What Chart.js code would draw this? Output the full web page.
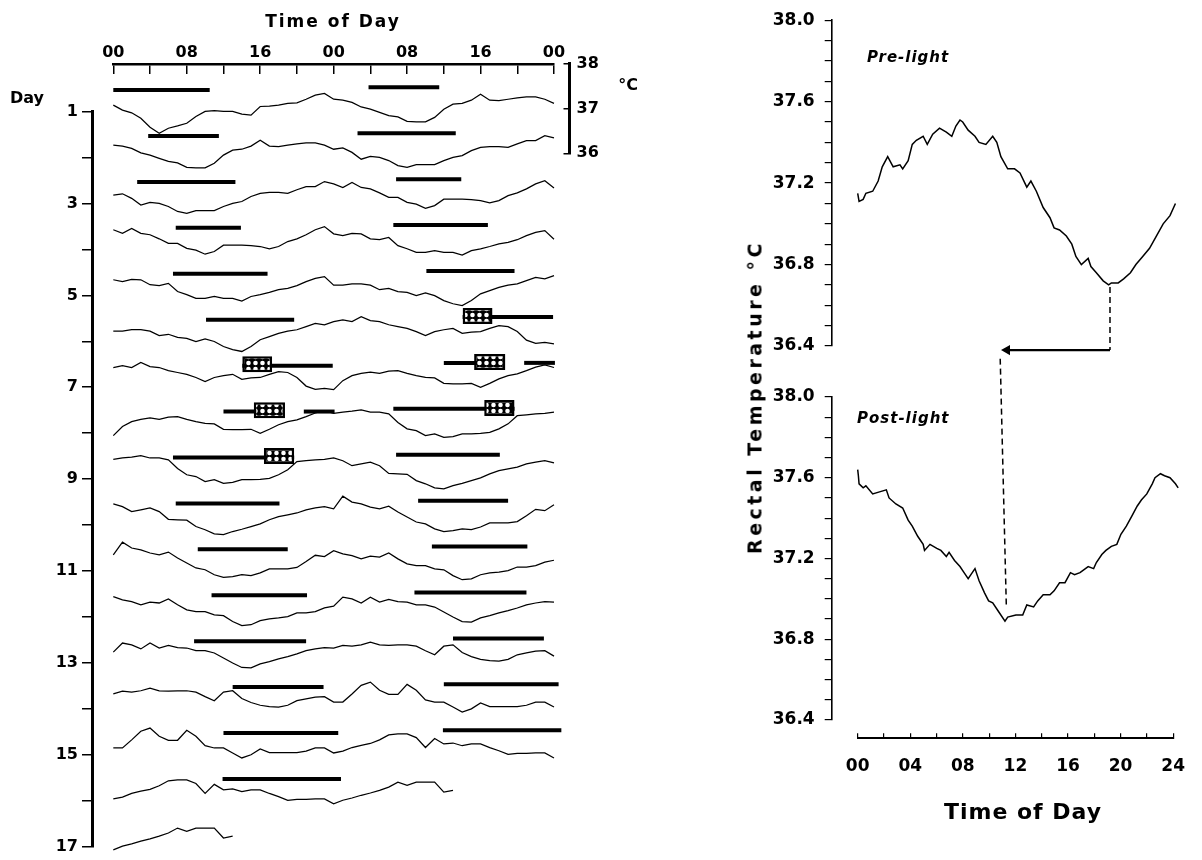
<!DOCTYPE html>
<html><head><meta charset="utf-8">
<script src="https://cdn.jsdelivr.net/npm/chart.js@4.4.1/dist/chart.umd.min.js"></script>
<style>
html,body{margin:0;padding:0;background:#fff;}
#wrap{position:relative;width:1202px;height:860px;overflow:hidden;background:#fff;}
canvas{position:absolute;left:0;top:0;}
.t{position:absolute;font-family:'DejaVu Sans',sans-serif;font-weight:bold;color:#000;white-space:nowrap;line-height:1;transform:translate(-50%,-50%);}
.it{position:absolute;font-family:'DejaVu Sans',sans-serif;font-weight:bold;font-style:italic;color:#000;white-space:nowrap;line-height:1;transform:translate(0,-50%);font-size:15px;letter-spacing:1px;}
</style></head><body>
<div id="wrap">
<canvas id="cMain" width="1202" height="860"></canvas>
<canvas id="cTime" width="1202" height="860"></canvas>
<canvas id="cBr" width="1202" height="860"></canvas>
<canvas id="cPre" width="1202" height="860"></canvas>
<canvas id="cPost" width="1202" height="860"></canvas>
<canvas id="cAx" width="1202" height="860"></canvas>
<div class="t" style="left:333px;top:21px;font-size:17px;letter-spacing:2px;">Time of Day</div>
<div class="t" style="left:27px;top:98px;font-size:16px;">Day</div>
<div class="t" style="left:628px;top:85px;font-size:16px;">°C</div>
<div class="t" style="left:755px;top:397px;font-size:19px;letter-spacing:3.5px;transform:translate(-50%,-50%) rotate(-90deg);">Rectal Temperature °C</div>
<div class="it" style="left:867px;top:57px;">Pre-light</div>
<div class="it" style="left:857px;top:418px;">Post-light</div>
<div class="t" style="left:1023px;top:812px;font-size:22px;letter-spacing:1px;">Time of Day</div>
</div>
<script>
// ================= DATA =================
// Hourly rectal temperature (°C), hours 00..23 of each study day (double-plotted on the left)
const day1  = [37.07,36.96,36.90,36.78,36.58,36.45,36.56,36.61,36.67,36.82,36.93,36.95,36.93,36.93,36.87,36.85,37.04,37.05,37.07,37.11,37.12,37.20,37.29,37.33];
const day2  = [37.20,37.18,37.13,37.03,36.98,36.91,36.84,36.81,36.71,36.70,36.70,36.80,36.98,37.09,37.11,37.18,37.31,37.18,37.17,37.20,37.23,37.25,37.25,37.20];
const day3  = [37.11,37.14,37.04,36.89,36.95,36.93,36.86,36.75,36.71,36.77,36.77,36.77,36.86,36.93,36.97,37.08,37.15,37.17,37.17,37.15,37.23,37.30,37.30,37.41];
const day4  = [37.36,37.28,37.39,37.28,37.25,37.16,37.06,37.06,36.95,36.91,36.82,36.88,37.02,37.02,37.02,37.01,36.99,36.94,36.99,37.10,37.16,37.25,37.36,37.43];
const day5  = [37.27,37.23,37.28,37.27,37.16,37.14,37.19,37.01,36.94,36.86,36.86,36.90,36.86,36.86,36.80,36.90,36.94,36.99,37.05,37.08,37.14,37.23,37.30,37.34];
const day6  = [37.15,37.15,37.18,37.18,37.15,37.05,37.08,37.01,36.99,36.92,36.98,36.92,36.81,36.74,36.70,36.81,36.96,37.03,37.10,37.15,37.18,37.25,37.32,37.29];
const day7  = [37.36,37.40,37.36,37.47,37.38,37.36,37.29,37.25,37.21,37.14,37.05,37.14,37.18,37.21,37.10,37.13,37.14,37.21,37.27,37.25,37.14,36.95,36.88,36.90];
const day8  = [36.87,37.07,37.18,37.23,37.26,37.23,37.28,37.29,37.23,37.18,37.14,37.13,37.01,37.00,37.00,37.01,36.92,37.01,37.11,37.18,37.22,37.29,37.37,37.42];
const day9  = [37.36,37.39,37.41,37.44,37.39,37.39,37.35,37.16,37.02,36.98,36.87,36.91,36.83,36.85,36.91,36.91,36.92,36.94,37.02,37.13,37.31,37.33,37.35,37.36];
const day10 = [37.39,37.33,37.22,37.26,37.30,37.22,37.05,37.04,37.03,36.89,36.82,36.73,36.71,36.78,36.83,36.89,36.95,37.04,37.11,37.15,37.19,37.26,37.30,37.33];
const day11 = [37.28,37.56,37.43,37.39,37.32,37.28,37.34,37.21,37.10,36.99,36.95,36.84,36.78,36.80,36.84,36.82,36.88,36.97,36.97,36.97,37.00,37.13,37.27,37.24];
const day12 = [37.37,37.30,37.26,37.19,37.25,37.23,37.32,37.19,37.08,37.04,37.04,36.97,36.95,36.82,36.73,36.75,36.84,36.88,36.90,36.93,37.01,37.01,37.04,37.12];
const day13 = [37.16,37.36,37.32,37.23,37.36,37.25,37.31,37.26,37.25,37.19,37.19,37.14,37.03,36.92,36.82,36.81,36.90,36.95,37.01,37.06,37.12,37.19,37.23,37.26];
const day14 = [37.25,37.31,37.29,37.32,37.38,37.32,37.31,37.32,37.32,37.29,37.19,37.10,37.29,37.32,37.15,37.06,37.00,36.97,36.96,37.00,37.10,37.14,37.18,37.19];
const day15 = [37.07,37.07,37.25,37.44,37.51,37.33,37.24,37.24,37.46,37.33,37.12,37.07,37.07,36.96,36.85,36.92,37.05,36.97,36.97,36.97,36.97,37.00,37.07,37.07];
const day16 = [36.96,37.00,37.08,37.13,37.17,37.25,37.36,37.38,37.38,37.30,37.08,37.28,37.16,37.18,37.12,37.16,37.16,37.08,37.01,36.93,36.95,36.95,36.96,36.96];
const day17 = [36.85,36.93,36.98,37.04,37.09,37.15,37.22,37.33,37.26,37.33,37.33,37.33,37.11,37.15];
const dayTemps = [day1,day2,day3,day4,day5,day6,day7,day8,day9,day10,day11,day12,day13,day14,day15,day16,day17];

const labelledDays = [1,3,5,7,9,11,13,15,17];
const hourLabels = ['00','08','16'];

// Sleep episodes (day, start hour, end hour)
const sleepDay   = [1,   2,   3,   4,   5,   6,    7,     8,    8,     9,   10,  11,  12,   13,  14,   15,   16];
const sleepStart = [0,   3.8, 2.6, 6.8, 6.5, 10.1, 14.05, 12.0, 20.75, 6.5, 6.8, 9.2, 10.7, 8.8, 13.0, 12.0, 11.9];
const sleepEnd   = [10.5,11.5,13.3,13.9,16.8,19.7, 23.9,  18.6, 24.1,  19.7,18.1,19.0,21.1, 21.0,22.9, 24.5, 24.8];

// Bright-light exposures (day, start hour, end hour)
const lightDay   = [7, 8, 9];
const lightStart = [14.05, 15.3, 16.4];
const lightEnd   = [17.3, 18.7, 19.7];

// Right panels: 24-h rectal temperature curves
const preHours = [0,0.1,0.4,0.6,1.1,1.5,1.8,2.2,2.6,3.1,3.3,3.7,4.0,4.3,4.8,5.1,5.5,6.0,6.5,6.9,7.2,7.5,7.7,8.1,8.6,8.9,9.4,9.9,10.2,10.5,11.0,11.5,11.9,12.4,12.7,13.1,13.6,14.1,14.4,14.8,15.3,15.7,16.0,16.4,16.9,17.1,17.5,18.0,18.4,18.6,19.1,19.5,20.0,20.4,20.9,21.4,21.9,22.4,22.9,23.3];
const preTemps = [37.15,37.11,37.12,37.15,37.16,37.21,37.28,37.33,37.28,37.29,37.27,37.31,37.39,37.41,37.43,37.39,37.44,37.47,37.45,37.43,37.48,37.51,37.50,37.46,37.43,37.40,37.39,37.43,37.40,37.33,37.27,37.27,37.25,37.18,37.21,37.16,37.08,37.03,36.98,36.97,36.94,36.90,36.84,36.80,36.83,36.79,36.76,36.72,36.70,36.71,36.71,36.73,36.76,36.80,36.84,36.88,36.94,37.00,37.04,37.10];
const postHours = [0,0.05,0.1,0.4,0.6,1.1,1.6,2.1,2.3,2.8,3.3,3.7,4.0,4.4,4.8,4.9,5.3,5.8,6.1,6.5,6.7,7.1,7.5,7.8,8.1,8.4,8.6,8.9,9.3,9.6,9.9,10.3,10.8,11.0,11.6,12.1,12.4,12.9,13.2,13.6,14.1,14.4,14.8,15.2,15.6,15.9,16.3,16.9,17.3,17.5,17.9,18.2,18.6,19.0,19.3,19.7,20.1,20.5,20.8,21.2,21.6,21.8,22.2,22.5,22.9,23.3,23.5];
const postTemps = [37.64,37.61,37.57,37.55,37.56,37.52,37.53,37.54,37.50,37.47,37.45,37.39,37.36,37.31,37.27,37.24,37.27,37.25,37.24,37.21,37.23,37.19,37.16,37.13,37.10,37.13,37.15,37.09,37.03,36.99,36.98,36.94,36.89,36.91,36.92,36.92,36.97,36.96,36.99,37.02,37.02,37.04,37.08,37.08,37.13,37.12,37.13,37.16,37.15,37.18,37.22,37.24,37.26,37.27,37.32,37.36,37.41,37.46,37.49,37.52,37.57,37.60,37.62,37.61,37.60,37.57,37.55];

// Phase-shift marker: pre-light nadir -> post-light nadir
const preNadir = [18.5, 36.69];          // hour, °C
const shiftArrowHours = [18.5, 10.95];   // arrow from, to (hour)
const shiftArrowTemp = 36.38;            // level just below the pre-light axis
const postMarkHours = [10.45, 10.9];     // dashed marker, top and bottom
const postMarkTemps = [38.19, 36.96];

// ================= STYLE / LAYOUT =================
Chart.defaults.font.family = "'DejaVu Sans', sans-serif";
Chart.defaults.color = '#000';
const BOLD16 = {family:"'DejaVu Sans', sans-serif", size:16, weight:'bold'};
const BOLD17 = {family:"'DejaVu Sans', sans-serif", size:17, weight:'bold'};
const base = {responsive:false, animation:false, devicePixelRatio:1, events:[],
  plugins:{legend:{display:false}, tooltip:{enabled:false}}};

// left panel geometry
const L_X0 = 113.3, L_X48 = 554, L_AXIS = 92, L_TOP = 111.7, L_BOT = 846.7;
const L_PXH = (L_X48 - L_X0) / 48;
const L_XMIN = -(L_X0 - L_AXIS) / L_PXH;
const DAY_PER_DEG = 45.3 / 45.94;
const TRACE_OFF = -0.074;
const BAR_OFF_1 = -0.47, BAR_OFF_2 = -0.53, BOX_OFF_1 = -0.50, BOX_OFF_2 = -0.55;
function rowY(row, t) { return row + TRACE_OFF - (t - 37) * DAY_PER_DEG; }

const datasets = [];
for (let r = 1; r <= dayTemps.length; r++) {
  const pts = [];
  const a = dayTemps[r - 1], b = dayTemps[r], c = dayTemps[r + 1];
  a.forEach((t, h) => pts.push({x: h, y: rowY(r, t)}));
  if (b) b.forEach((t, h) => pts.push({x: h + 24, y: rowY(r, t)}));
  if (b && b.length === 24 && c) pts.push({x: 48, y: rowY(r, c[0])});
  datasets.push({type:'line', indexAxis:'x', data:pts, borderColor:'#000', borderWidth:1.25,
    pointRadius:0, tension:0, clip:false, order:3});
}
function sleepLine(x1, x2, y) {
  return {type:'line', indexAxis:'x', data:[{x:x1, y:y}, {x:x2, y:y}], borderColor:'#000',
    borderWidth:4, borderCapStyle:'butt', pointRadius:0, clip:false, order:2};
}
sleepDay.forEach((d, i) => {
  datasets.push(sleepLine(sleepStart[i], sleepEnd[i], d + BAR_OFF_1));
  if (d > 1) datasets.push(sleepLine(sleepStart[i] + 24, sleepEnd[i] + 24, d - 1 + BAR_OFF_2));
});
// stipple pattern for light boxes
const pc = document.createElement('canvas'); pc.width = 7; pc.height = 6;
const pg = pc.getContext('2d');
pg.fillStyle = '#000'; pg.fillRect(0, 0, 7, 6);
pg.fillStyle = '#fff'; pg.beginPath(); pg.arc(3.5, 3, 2.3, 0, Math.PI * 2); pg.fill();
const stipple = pg.createPattern(pc, 'repeat');
const boxData = [];
lightDay.forEach((d, i) => {
  boxData.push({x:[lightStart[i], lightEnd[i]], y: d + BOX_OFF_1});
  if (d > 1) boxData.push({x:[lightStart[i] + 24, lightEnd[i] + 24], y: d - 1 + BOX_OFF_2});
});
datasets.push({type:'bar', indexAxis:'y', data:boxData, barThickness:16, backgroundColor:stipple,
  borderColor:'#000', borderWidth:2.5, borderSkipped:false, inflateAmount:0, clip:false, order:1});

new Chart(document.getElementById('cMain'), {
  type:'line', data:{datasets},
  options:Object.assign({}, base, {
    layout:{padding:{left:0, top:L_TOP, right:1202 - L_X48, bottom:860 - L_BOT}},
    scales:{
      x:{type:'linear', min:L_XMIN, max:48, display:false},
      y:{type:'linear', min:1, max:17, reverse:true, position:'left', offset:false,
        afterFit(s){ s.width = L_AXIS; },
        grid:{offset:false, drawOnChartArea:false, drawTicks:true, tickLength:10, color:'#000', lineWidth:1.5},
        border:{display:true, color:'#000', width:3},
        ticks:{stepSize:1, autoSkip:false, padding:4, color:'#000', font:BOLD16,
          callback:(v) => labelledDays.includes(v) ? String(v) : ''}}
    }
  })
});

// top time axis of the left panel
const T_LINE = 64;
new Chart(document.getElementById('cTime'), {
  type:'line', data:{datasets:[]},
  options:Object.assign({}, base, {
    layout:{padding:{left:L_X0, right:1202 - L_X48, top:0, bottom:860 - T_LINE - 11}},
    scales:{
      y:{type:'linear', min:0, max:1, display:false},
      xTop:{axis:'x', type:'linear', position:'top', min:0, max:48,
        afterFit(s){ s.height = T_LINE - 1; },
        grid:{display:false, drawTicks:false}, border:{display:false},
        ticks:{stepSize:4, autoSkip:false, maxRotation:0, padding:1, color:'#000', font:BOLD16,
          callback:(v) => v % 8 === 0 ? hourLabels[(v % 24) / 8] : ''}},
      xBot:{axis:'x', type:'linear', position:'bottom', min:0, max:48,
        afterFit(s){ s.height = 11; },
        grid:{drawOnChartArea:false, drawTicks:true, tickLength:10, color:'#000', lineWidth:1.5},
        border:{display:true, color:'#000', width:2.5},
        ticks:{stepSize:4, autoSkip:false, display:false}}
    }
  })
});

// temperature scale bracket (36–38 °C)
const BR_X = 569.5, BR_TOP = 63.7, BR_BOT = 153.3;
new Chart(document.getElementById('cBr'), {
  type:'line', data:{datasets:[]},
  options:Object.assign({}, base, {
    layout:{padding:{left:BR_X - 6, right:1202 - BR_X - 1 - 40, top:BR_TOP, bottom:860 - BR_BOT}},
    scales:{
      x:{type:'linear', min:0, max:1, display:false},
      yL:{axis:'y', type:'linear', position:'left', min:36, max:38,
        afterFit(s){ s.width = 6; },
        grid:{drawOnChartArea:false, drawTicks:true, tickLength:6, color:'#000', lineWidth:1.5},
        border:{display:true, color:'#000', width:3},
        ticks:{stepSize:1, display:false}},
      yR:{axis:'y', type:'linear', position:'right', min:36, max:38,
        afterFit(s){ s.width = 40; },
        grid:{display:false, drawTicks:false}, border:{display:false},
        ticks:{stepSize:1, padding:6, color:'#000', font:BOLD16, callback:(v) => String(v)}}
    }
  })
});

// right panels
const R_AXIS = 831.7, R_X0 = 857.7, R_X24 = 1185;
const R_PXH = (R_X24 - R_X0) / 24;
const R_XMIN = -(R_X0 - R_AXIS) / R_PXH;
function tempAxis() {
  return {type:'linear', min:36.4, max:38.0, position:'left',
    afterFit(s){ s.width = 91.7; },
    grid:{drawOnChartArea:false, drawTicks:true, tickLength:7, color:'#000', lineWidth:1.2},
    border:{display:true, color:'#000', width:1.6},
    ticks:{stepSize:0.1, autoSkip:false, padding:10, color:'#000', font:BOLD17,
      callback:(v) => (Math.round(v * 10) % 4 === 0) ? v.toFixed(1) : ''}};
}
function curve(hs, ts) {
  return {type:'line', data:hs.map((h, i) => ({x:h, y:ts[i]})), borderColor:'#000', borderWidth:1.5,
    pointRadius:0, tension:0, clip:false};
}
new Chart(document.getElementById('cPre'), {
  type:'line',
  data:{datasets:[
    curve(preHours, preTemps),
    {type:'line', data:[{x:preNadir[0], y:preNadir[1]}, {x:preNadir[0], y:shiftArrowTemp}], borderColor:'#000',
      borderWidth:1.5, borderDash:[6,4], pointRadius:0, clip:false},
    {type:'line', data:[{x:shiftArrowHours[0], y:shiftArrowTemp}, {x:shiftArrowHours[1], y:shiftArrowTemp}],
      borderColor:'#000', borderWidth:2.2, pointRadius:[0,6], pointStyle:'triangle', pointRotation:[0,-90],
      pointBackgroundColor:'#000', pointBorderColor:'#000', pointBorderWidth:0, clip:false}
  ]},
  options:Object.assign({}, base, {
    layout:{padding:{left:R_AXIS - 91.7, right:1202 - R_X24, top:20, bottom:860 - 346}},
    scales:{ x:{type:'linear', min:R_XMIN, max:24, display:false}, y:tempAxis() }
  })
});
new Chart(document.getElementById('cPost'), {
  type:'line',
  data:{datasets:[
    curve(postHours, postTemps),
    {type:'line', data:[{x:postMarkHours[0], y:postMarkTemps[0]}, {x:postMarkHours[1], y:postMarkTemps[1]}],
      borderColor:'#000', borderWidth:1.5, borderDash:[6,4], pointRadius:0, clip:false}
  ]},
  options:Object.assign({}, base, {
    layout:{padding:{left:R_AXIS - 91.7, right:1202 - R_X24, top:397, bottom:860 - 720}},
    scales:{ x:{type:'linear', min:R_XMIN, max:24, display:false}, y:tempAxis() }
  })
});
// bottom time axis of the right panels
const AX_Y = 738.3;
new Chart(document.getElementById('cAx'), {
  type:'line', data:{datasets:[]},
  options:Object.assign({}, base, {
    layout:{padding:{left:R_X0, right:1202 - R_X24, top:AX_Y - 5, bottom:860 - AX_Y - 1 - 40}},
    scales:{
      y:{type:'linear', min:0, max:1, display:false},
      xT:{axis:'x', type:'linear', position:'top', min:0, max:24,
        afterFit(s){ s.height = 5; },
        grid:{drawOnChartArea:false, drawTicks:true, tickLength:5, color:'#000', lineWidth:1.2},
        border:{display:true, color:'#000', width:2},
        ticks:{stepSize:2, autoSkip:false, display:false}},
      xB:{axis:'x', type:'linear', position:'bottom', min:0, max:24,
        afterFit(s){ s.height = 40; },
        grid:{display:false, drawTicks:false}, border:{display:false},
        ticks:{stepSize:4, autoSkip:false, maxRotation:0, padding:17, color:'#000', font:BOLD17,
          callback:(v) => String(v).padStart(2, '0')}}
    }
  })
});
</script>
</body></html>
